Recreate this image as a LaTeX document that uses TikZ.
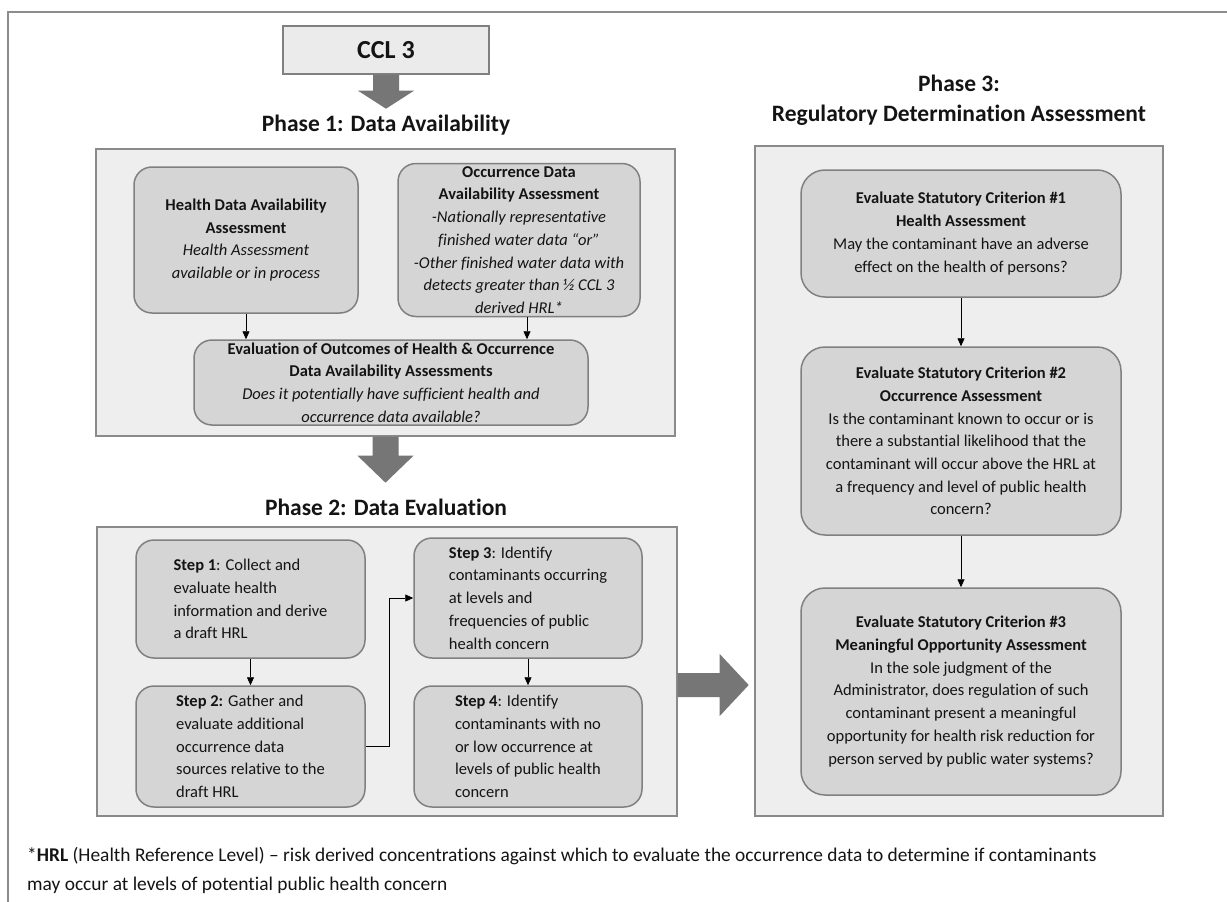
\documentclass[tikz,border=0pt]{standalone}
\usepackage{fontspec}
\setmainfont{Carlito}[Ligatures={NoCommon}]
\usetikzlibrary{arrows.meta,calc}
\definecolor{boxfill}{HTML}{D5D5D5}
\definecolor{boxedge}{HTML}{808080}
\definecolor{contfill}{HTML}{EEEEEE}
\definecolor{contedge}{HTML}{8A8A8A}
\definecolor{arrowgray}{HTML}{767676}
\definecolor{framegray}{HTML}{8C8C8C}
\definecolor{cclfill}{HTML}{EBEBEB}
\definecolor{inktext}{HTML}{141414}
\newcommand\bxfont{\fontsize{16.5}{22.7}\selectfont}
\newcommand\ttlfont{\bfseries\fontsize{23.5}{30}\selectfont}
\begin{document}
\begin{tikzpicture}[x=1pt,y=-1pt,
  rbox/.style={draw=boxedge, fill=boxfill, line width=1.5pt, rounded corners=18pt, inner sep=0pt, font=\bxfont, text=inktext},
  cbox/.style={rbox, align=center},
  lbox/.style={rbox, align=left},
  cont/.style={draw=contedge, fill=contfill, line width=1.4pt, inner sep=0pt},
  ttl/.style={font=\ttlfont, text=inktext, inner sep=0pt},
  conn/.style={draw=black, line width=0.8pt, -{Triangle[width=7pt,length=8pt]}},
  bigarrow/.style={fill=arrowgray, draw=none},
  frameline/.style={draw=framegray, line width=2pt}]
\useasboundingbox (0,0) rectangle (1227,902);
\fill[white] (0,0) rectangle (1227,902);
\draw[frameline] (8,902) -- (8,12) -- (1227,12);

% containers
\node[cont, minimum width=579pt, minimum height=287pt] (p1) at (385.5,292.5) {};
\node[cont, minimum width=580pt, minimum height=289pt] (p2) at (387,671.5) {};
\node[cont, minimum width=408pt, minimum height=670pt] (p3) at (959,481) {};

% CCL box
\node[draw=boxedge, fill=cclfill, line width=1.4pt, minimum width=206pt, minimum height=48pt,
      font=\bfseries\fontsize{26}{30}\selectfont, text=inktext] (ccl) at (386,50) {CCL 3};

% titles
\node[ttl] (t1) at (386,125) {Phase 1: Data Availability};
\node[ttl] (t2) at (386,507) {Phase 2: Data Evaluation};
\node[ttl] (t3a) at (959,83) {Phase 3:};
\node[ttl] (t3b) at (959,115) {Regulatory Determination Assessment};

% big arrows
\fill[bigarrow] ($(ccl.south)+(-13,0)$) -- ($(ccl.south)+(13,0)$) -- ($(ccl.south)+(13,16)$)
  -- ($(ccl.south)+(28,16)$) -- ($(ccl.south)+(0,34)$) -- ($(ccl.south)+(-28,16)$)
  -- ($(ccl.south)+(-13,16)$) -- cycle;
\fill[bigarrow] ($(p1.south)+(-13,0)$) -- ($(p1.south)+(13,0)$) -- ($(p1.south)+(13,19)$)
  -- ($(p1.south)+(28,19)$) -- ($(p1.south)+(0,46)$) -- ($(p1.south)+(-28,19)$)
  -- ($(p1.south)+(-13,19)$) -- cycle;
\coordinate (a3) at ($(p2.east)+(0,13.5)$);
\fill[bigarrow] ($(a3)+(0,-12)$) -- ($(a3)+(42,-12)$) -- ($(a3)+(42,-31)$) -- ($(a3)+(71,0)$)
  -- ($(a3)+(42,31)$) -- ($(a3)+(42,12)$) -- ($(a3)+(0,12)$) -- cycle;

% Phase 1 boxes
\node[cbox, minimum width=224pt, minimum height=146pt] (health) at (246,240)
  {\textbf{Health Data Availability}\\\textbf{Assessment}\\\textit{Health Assessment}\\\textit{available or in process}};
\node[cbox, minimum width=242pt, minimum height=153pt] (occ) at (519,240)
  {\textbf{Occurrence Data}\\\textbf{Availability Assessment}\\\textit{-Nationally representative}\\\textit{finished water data “or”}\\\textit{-Other finished water data with}\\\textit{detects greater than ½ CCL 3}\\\textit{derived HRL*}};
\node[cbox, minimum width=394pt, minimum height=85pt] (eval) at (391,382.5)
  {\textbf{Evaluation of Outcomes of Health \& Occurrence}\\\textbf{Data Availability Assessments}\\\textit{Does it potentially have sufficient health and}\\\textit{occurrence data available?}};

% Phase 2 boxes
\node[lbox, minimum width=229pt, minimum height=118pt] (s1) at (250.5,599)
  {\textbf{Step 1}: Collect and\\evaluate health\\information and derive\\a draft HRL};
\node[lbox, minimum width=229pt, minimum height=121pt] (s2) at (250.5,746.5)
  {\textbf{Step 2:} Gather and\\evaluate additional\\occurrence data\\sources relative to the\\draft HRL};
\node[lbox, minimum width=228pt, minimum height=120pt] (s3) at (528,598)
  {\textbf{Step 3}: Identify\\contaminants occurring\\at levels and\\frequencies of public\\health concern};
\node[lbox, minimum width=228pt, minimum height=121pt] (s4) at (528,746.5)
  {\textbf{Step 4}: Identify\\contaminants with no\\or low occurrence at\\levels of public health\\concern};

% Phase 3 boxes
\node[cbox, minimum width=320pt, minimum height=127pt, rounded corners=24pt] (c1) at (961,233.5)
  {\textbf{Evaluate Statutory Criterion \#1}\\\textbf{Health Assessment}\\May the contaminant have an adverse\\effect on the health of persons?};
\node[cbox, minimum width=320pt, minimum height=188pt, rounded corners=24pt] (c2) at (961,441)
  {\textbf{Evaluate Statutory Criterion \#2}\\\textbf{Occurrence Assessment}\\Is the contaminant known to occur or is\\there a substantial likelihood that the\\contaminant will occur above the HRL at\\a frequency and level of public health\\concern?};
\node[cbox, minimum width=320pt, minimum height=207pt, rounded corners=24pt] (c3) at (961,691.5)
  {\textbf{Evaluate Statutory Criterion \#3}\\\textbf{Meaningful Opportunity Assessment}\\In the sole judgment of the\\Administrator, does regulation of such\\contaminant present a meaningful\\opportunity for health risk reduction for\\person served by public water systems?};

% connectors
\draw[conn] (health.south) -- (health.south |- eval.north);
\coordinate (occb) at ($(occ.south)+(8,0)$);
\draw[conn] (occb) -- (occb |- eval.north);
\draw[conn] (s1.south) -- (s2.north);
\draw[conn] (s3.south) -- (s4.north);
\draw[conn] (s2.east) -- ++(24,0) |- (s3.west);
\draw[conn] (c1.south) -- (c2.north);
\draw[conn] (c2.south) -- (c3.north);

% footnote
\node[anchor=north west, align=left, font=\fontsize{19.4}{29.5}\selectfont, text=inktext, inner sep=0pt] (foot) at (27,847)
  {*\textbf{HRL} (Health Reference Level) – risk derived concentrations against which to evaluate the occurrence data to determine if contaminants\\may occur at levels of potential public health concern};
\end{tikzpicture}
\end{document}
